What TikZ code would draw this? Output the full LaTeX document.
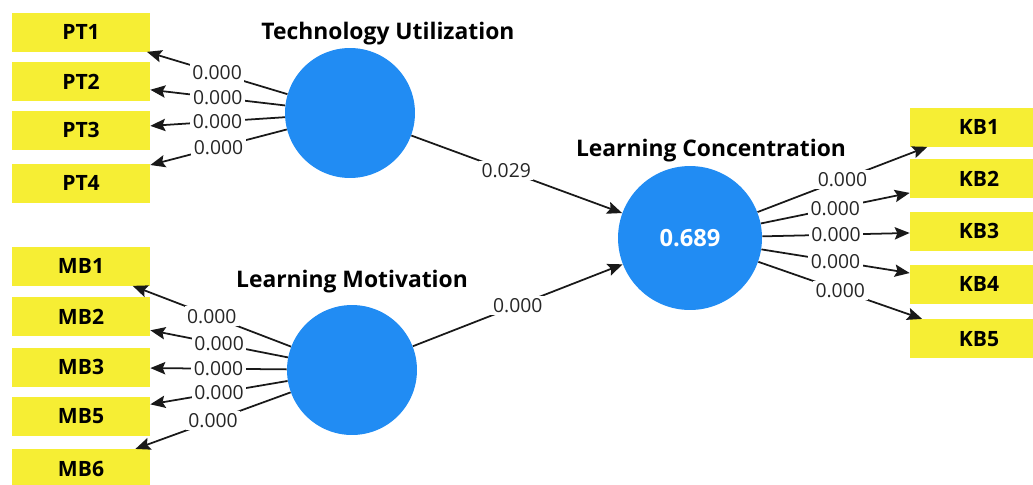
\documentclass[tikz,border=0pt]{standalone}
\usepackage{fontspec}
\setmainfont{Open Sans}
\usepackage{xcolor}
\usepackage{tikz}
\usetikzlibrary{arrows.meta, positioning}
\definecolor{indyellow}{RGB}{246,238,52}
\definecolor{latentblue}{RGB}{33,140,243}
\tikzset{
    indicator/.style={
        rectangle,
        fill=indyellow,
        minimum width=2.76cm,
        minimum height=0.78cm,
        inner sep=0pt,
        font=\fontsize{12}{14}\selectfont\bfseries
    },
    latent/.style={
        circle,
        fill=latentblue,
        minimum size=2.6cm,
        inner sep=0pt,
        text=white,
        font=\fontsize{13.5}{16}\selectfont\bfseries
    },
    construct/.style={
        inner sep=1pt,
        font=\fontsize{13}{15}\selectfont\bfseries
    },
    loading/.style={
        draw=black!90,
        line width=1pt,
        -{Stealth[length=8.5pt, width=7pt, inset=1.5pt]}
    },
    coef/.style={
        fill=white,
        inner sep=1.5pt,
        text=black!85,
        font=\fontsize{11}{12}\selectfont
    }
}
\begin{document}
\begin{tikzpicture}[x=0.02cm, y=-0.02cm]
\useasboundingbox (0,0) rectangle (1033,484);

% Latent variables
\node[latent] (tu) at (350,113) {};
\node[latent] (lm) at (352,370) {};
\node[latent, minimum size=2.88cm] (lc) at (690,238) {0.689};

\node[construct, above=0.02cm of tu, xshift=0.76cm] (tutitle) {Technology Utilization};
\node[construct, above=0.2cm of lm] (lmtitle) {Learning Motivation};
\node[construct, above=0.03cm of lc, xshift=0.42cm] (lctitle) {Learning Concentration};

% Indicators of Technology Utilization
\node[indicator] (pt1) at (81,32) {PT1};
\node[indicator, below=0.2cm of pt1] (pt2) {PT2};
\node[indicator, below=0.18cm of pt2] (pt3) {PT3};
\node[indicator, below=0.26cm of pt3] (pt4) {PT4};

% Indicators of Learning Motivation
\node[indicator] (mb1) at (81,266) {MB1};
\node[indicator, below=0.22cm of mb1] (mb2) {MB2};
\node[indicator, below=0.22cm of mb2] (mb3) {MB3};
\node[indicator, below=0.18cm of mb3] (mb5) {MB5};
\node[indicator, below=0.26cm of mb5] (mb6) {MB6};

% Indicators of Learning Concentration
\node[indicator] (kb1) at (979,127) {KB1};
\node[indicator, below=0.24cm of kb1] (kb2) {KB2};
\node[indicator, below=0.26cm of kb2] (kb3) {KB3};
\node[indicator, below=0.26cm of kb3] (kb4) {KB4};
\node[indicator, below=0.3cm of kb4] (kb5) {KB5};

% Outer loadings
\draw[loading] (tu) -- node[coef] (lpt1) {0.000} (pt1);
\draw[loading] (tu) -- node[coef] (lpt2) {0.000} (pt2);
\draw[loading] (tu) -- node[coef] (lpt3) {0.000} (pt3);
\draw[loading] (tu) -- node[coef] (lpt4) {0.000} (pt4);

\draw[loading] (lm) -- node[coef] (lmb1) {0.000} (mb1);
\draw[loading] (lm) -- node[coef] (lmb2) {0.000} (mb2);
\draw[loading] (lm) -- node[coef] (lmb3) {0.000} (mb3);
\draw[loading] (lm) -- node[coef] (lmb5) {0.000} (mb5);
\draw[loading] (lm) -- node[coef] (lmb6) {0.000} (mb6);

\draw[loading] (lc) -- node[coef] (lkb1) {0.000} (kb1);
\draw[loading] (lc) -- node[coef] (lkb2) {0.000} (kb2);
\draw[loading] (lc) -- node[coef] (lkb3) {0.000} (kb3);
\draw[loading] (lc) -- node[coef] (lkb4) {0.000} (kb4);
\draw[loading] (lc) -- node[coef] (lkb5) {0.000} (kb5);

% Path coefficients
\draw[loading] (tu) -- node[coef, pos=0.45] (ptu) {0.029} (lc);
\draw[loading] (lm) -- node[coef] (plm) {0.000} (lc);

\end{tikzpicture}
\end{document}
